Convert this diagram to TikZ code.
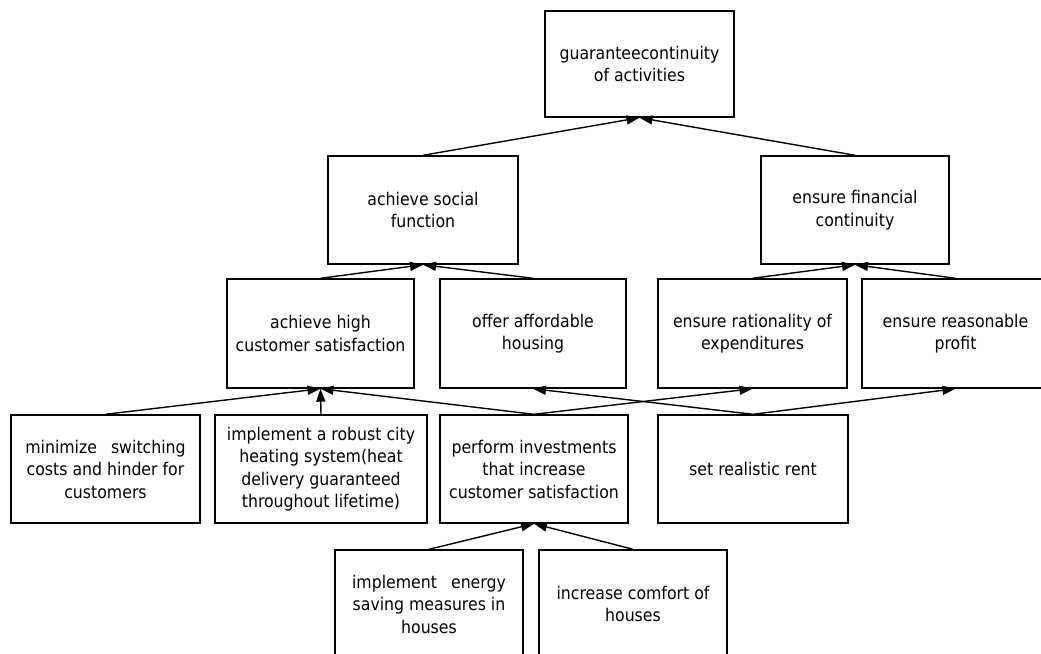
\documentclass[tikz,border=0pt]{standalone}
\usepackage{fontspec}
\setmainfont{DejaVu Sans Condensed}
\usetikzlibrary{arrows.meta}
\begin{document}
\begin{tikzpicture}[x=1pt,y=-1pt,
  goal/.style={draw=black,line width=1.4pt,rectangle,minimum height=108pt,
    inner sep=0pt,align=center,font=\fontsize{17.5}{22.5}\selectfont},
  link/.style={line width=1.4pt,-{Triangle[length=13pt,width=9pt]}}]
\useasboundingbox (0,0) rectangle (1041,653);
\clip (0,0) rectangle (1041,653);

% level 1
\node[goal,minimum width=189pt,minimum height=106pt] (top) at (639.5,64) {guaranteecontinuity\\of activities};

% level 2
\node[goal,minimum width=190pt] (social) at (423,210) {achieve social\\function};
\node[goal,minimum width=188pt] (finance) at (855,210) {ensure financial\\continuity};

% level 3
\node[goal,minimum width=187pt,minimum height=109pt] (high) at (320.5,333.5) {achieve high\\customer satisfaction};
\node[goal,minimum width=186pt,minimum height=109pt] (offer) at (533,333.5) {offer affordable\\housing};
\node[goal,minimum width=189pt,minimum height=109pt] (ration) at (752.5,333.5) {ensure rationality of\\expenditures};
\node[goal,minimum width=187pt,minimum height=109pt] (profit) at (955.5,333.5) {ensure reasonable\\profit};

% level 4
\node[goal,minimum width=189pt] (minim) at (105.5,469) {minimize\hspace{0.8em}switching\\costs and hinder for\\customers};
\node[goal,minimum width=212pt] (robust) at (321,469) {implement a robust city\\heating system(heat\\delivery guaranteed\\throughout lifetime)};
\node[goal,minimum width=188pt] (invest) at (534,469) {perform investments\\that increase\\customer satisfaction};
\node[goal,minimum width=190pt] (rent) at (753,469) {set realistic rent};

% level 5
\node[goal,minimum width=188pt] (energy) at (429,604) {implement\hspace{0.8em}energy\\saving measures in\\houses};
\node[goal,minimum width=188pt] (comfort) at (633,604) {increase comfort of\\houses};

% contributions
\draw[link] (social.north) -- (top.south);
\draw[link] (finance.north) -- (top.south);
\draw[link] (high.north) -- (social.south);
\draw[link] (offer.north) -- (social.south);
\draw[link] (ration.north) -- (finance.south);
\draw[link] (profit.north) -- (finance.south);
\draw[link] (minim.north) -- (high.south);
\draw[link] (robust.north) -- (high.south);
\draw[link] (invest.north) -- (high.south);
\draw[link] (invest.north) -- (ration.south);
\draw[link] (rent.north) -- (offer.south);
\draw[link] (rent.north) -- (profit.south);
\draw[link] (energy.north) -- (invest.south);
\draw[link] (comfort.north) -- (invest.south);
\end{tikzpicture}
\end{document}
